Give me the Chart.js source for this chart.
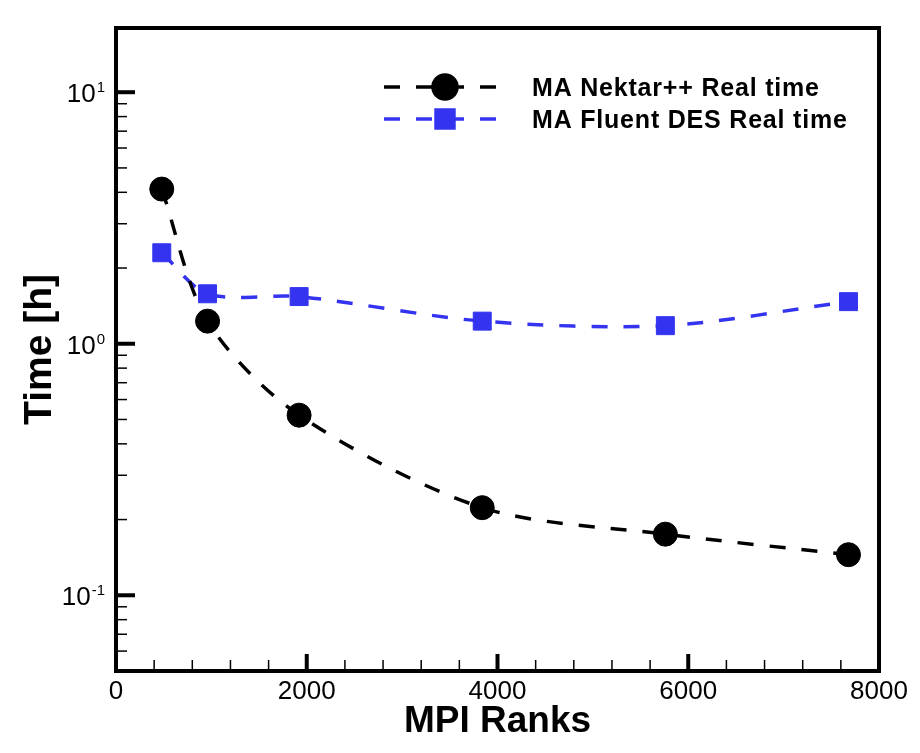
<!DOCTYPE html>
<html>
<head>
<meta charset="utf-8">
<script src="https://cdn.jsdelivr.net/npm/chart.js@4.4.1/dist/chart.umd.min.js"></script>
<style>
  html, body { margin: 0; padding: 0; background: #fff; }
  #wrap { width: 920px; height: 753px; }
</style>
</head>
<body>
<div id="wrap"><canvas id="chart" width="920" height="753"></canvas></div>
<script>
// MPI ranks on the x axis
var ranks = [480, 960, 1920, 3840, 5760, 7680];
// wall time in hours
var nektarTime = [4.12, 1.23, 0.52, 0.223, 0.175, 0.145];
var fluentTime = [2.30, 1.58, 1.54, 1.23, 1.18, 1.47];
var seriesNames = ['MA Nektar++ Real time', 'MA Fluent DES Real time'];
var xTickLabels = ['0', '2000', '4000', '6000', '8000'];
var yDecades = [-1, 0, 1];

var blue = 'rgb(52, 52, 240)';

function toPoints(xs, ys) {
  return xs.map(function (x, i) { return { x: x, y: ys[i] }; });
}

// box, inward ticks, y labels with exponents and the legend
var framePlugin = {
  id: 'frame',
  afterDatasetsDraw: function (chart) {
    var ctx = chart.ctx;
    var a = chart.chartArea;
    var xs = chart.scales.x, ys = chart.scales.y;
    ctx.save();
    ctx.strokeStyle = '#000';
    ctx.lineCap = 'butt';

    // x ticks every 400, major every 2000
    for (var v = 400; v < 8000; v += 400) {
      var px = xs.getPixelForValue(v);
      var major = v % 2000 === 0;
      ctx.lineWidth = major ? 4 : 1.5;
      ctx.beginPath();
      ctx.moveTo(px, a.bottom);
      ctx.lineTo(px, a.bottom - (major ? 17 : 11));
      ctx.stroke();
    }

    // y log ticks
    for (var d = -2; d <= 1; d++) {
      for (var m = 1; m <= 9; m++) {
        var val = m * Math.pow(10, d);
        if (val <= ys.min || val >= ys.max) continue;
        var py = ys.getPixelForValue(val);
        var maj = m === 1;
        ctx.lineWidth = maj ? 4 : 1.5;
        ctx.beginPath();
        ctx.moveTo(a.left, py);
        ctx.lineTo(a.left + (maj ? 19 : 11), py);
        ctx.stroke();
      }
    }

    // frame
    ctx.lineWidth = 4;
    ctx.strokeRect(a.left, a.top, a.right - a.left, a.bottom - a.top);

    // y labels 10^n
    ctx.fillStyle = '#000';
    ctx.textBaseline = 'alphabetic';
    yDecades.forEach(function (e) {
      var py = ys.getPixelForValue(Math.pow(10, e));
      var sup = String(e);
      ctx.font = '15px "Liberation Sans", Arial, sans-serif';
      ctx.textAlign = 'right';
      var right = 105;
      var sw = ctx.measureText(sup).width;
      ctx.fillText(sup, right, py);
      ctx.font = '26px "Liberation Sans", Arial, sans-serif';
      ctx.fillText('10', right - sw - 1, py + 10);
    });

    // legend
    var rows = [87, 119];
    chart.data.datasets.forEach(function (ds, i) {
      var y = rows[i];
      ctx.save();
      ctx.strokeStyle = ds.borderColor;
      ctx.lineWidth = ds.borderWidth;
      ctx.setLineDash(ds.borderDash);
      ctx.beginPath();
      ctx.moveTo(384, y);
      ctx.lineTo(496, y);
      ctx.stroke();
      ctx.setLineDash([]);
      ctx.fillStyle = ds.pointBackgroundColor;
      ctx.strokeStyle = ds.pointBorderColor;
      Chart.helpers.drawPoint(ctx, {
        pointStyle: ds.pointStyle, radius: ds.pointRadius, rotation: 0, borderWidth: 1
      }, 445, y);
      ctx.restore();
      ctx.fillStyle = '#000';
      ctx.font = 'bold 25px "Liberation Sans", Arial, sans-serif';
      ctx.textAlign = 'left';
      ctx.textBaseline = 'alphabetic';
      ctx.letterSpacing = '0.8px';
      ctx.fillText(ds.label, 532, y + 9);
      ctx.letterSpacing = '0px';
    });
    ctx.restore();
  }
};

new Chart(document.getElementById('chart'), {
  type: 'line',
  data: {
    datasets: [{
      label: seriesNames[0],
      data: toPoints(ranks, nektarTime),
      borderColor: '#000',
      borderWidth: 3.5,
      borderDash: [16, 16],
      tension: 0.3,
      pointStyle: 'circle',
      pointRadius: 12,
      pointBackgroundColor: '#000',
      pointBorderColor: '#000',
      pointBorderWidth: 1
    }, {
      label: seriesNames[1],
      data: toPoints(ranks, fluentTime),
      borderColor: blue,
      borderWidth: 3.5,
      borderDash: [16, 16],
      tension: 0.3,
      pointStyle: 'rect',
      pointRadius: 12.7,
      pointBackgroundColor: blue,
      pointBorderColor: blue,
      pointBorderWidth: 1
    }]
  },
  options: {
    responsive: false,
    animation: false,
    devicePixelRatio: 1,
    layout: { padding: { top: 28, right: 41, left: 0, bottom: 0 } },
    plugins: {
      legend: { display: false },
      tooltip: { enabled: false }
    },
    scales: {
      x: {
        type: 'linear',
        min: 0,
        max: 8000,
        grid: { display: false, drawTicks: false },
        border: { display: false },
        ticks: {
          stepSize: 2000,
          autoSkip: false,
          maxRotation: 0,
          padding: 5,
          color: '#000',
          font: { family: '"Liberation Sans", Arial, sans-serif', size: 26 },
          callback: function (v) {
            var i = v / 2000;
            return Number.isInteger(i) ? xTickLabels[i] : '';
          }
        },
        title: {
          display: true,
          text: 'MPI Ranks',
          color: '#000',
          padding: { top: 0, bottom: 9 },
          font: { family: '"Liberation Sans", Arial, sans-serif', size: 37, weight: 'bold' }
        },
        afterFit: function (scale) { scale.height = 82; }
      },
      y: {
        type: 'logarithmic',
        min: 0.05,
        max: 18,
        grid: { display: false, drawTicks: false },
        border: { display: false },
        ticks: { display: false },
        title: {
          display: true,
          text: 'Time [h]',
          color: '#000',
          padding: { top: 17, bottom: 0 },
          font: { family: '"Liberation Sans", Arial, sans-serif', size: 39, weight: 'bold' }
        },
        afterFit: function (scale) { scale.width = 116; }
      }
    }
  },
  plugins: [framePlugin]
});
</script>
</body>
</html>
